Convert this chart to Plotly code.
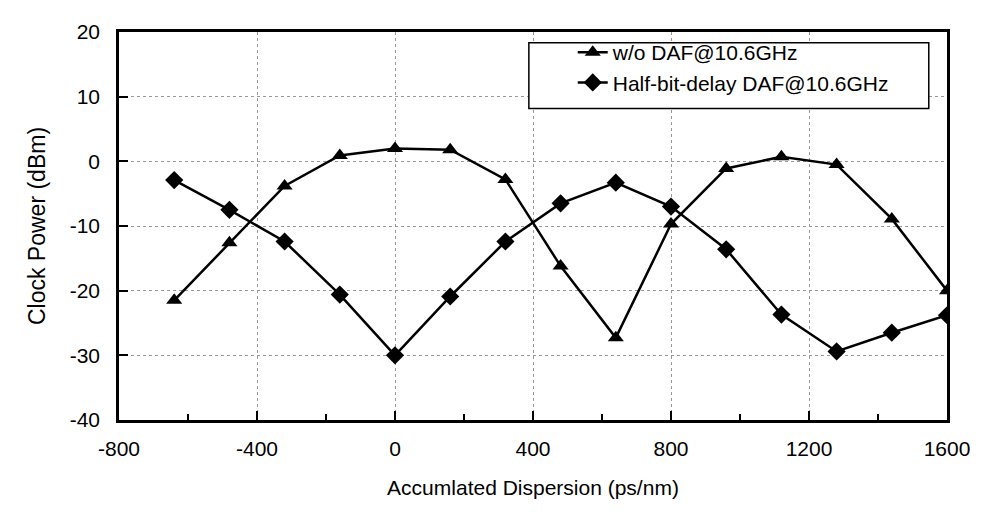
import plotly.graph_objects as go

dispersion = [-640, -480, -320, -160, 0, 160, 320, 480, 640, 800, 960, 1120, 1280, 1440, 1600]
wo_daf = [-21.5, -12.6, -3.8, 0.9, 2.0, 1.8, -2.8, -16.2, -27.3, -9.7, -1.1, 0.7, -0.5, -8.9, -20.0]
half_bit_daf = [-2.9, -7.5, -12.4, -20.6, -30.0, -20.9, -12.4, -6.5, -3.3, -7.0, -13.6, -23.7, -29.4, -26.5, -23.8]
x_ticks = [-800, -400, 0, 400, 800, 1200, 1600]
y_ticks = [-40, -30, -20, -10, 0, 10, 20]

fig = go.Figure()
fig.add_trace(go.Scatter(x=dispersion, y=wo_daf, mode="lines+markers",
                         name="w/o DAF@10.6GHz",
                         line=dict(color="black", width=2.5),
                         marker=dict(symbol="triangle-up", size=14, color="black")))
fig.add_trace(go.Scatter(x=dispersion, y=half_bit_daf, mode="lines+markers",
                         name="Half-bit-delay DAF@10.6GHz",
                         line=dict(color="black", width=2.5),
                         marker=dict(symbol="diamond", size=14, color="black")))

font = "Liberation Sans, Arial, sans-serif"
fig.update_layout(
    width=983, height=523,
    margin=dict(l=111, r=44, t=16, b=111),
    paper_bgcolor="white", plot_bgcolor="white",
    font=dict(family=font, size=21, color="black"),
    legend=dict(x=0.548, y=1.0, xanchor="left", yanchor="top",
                bgcolor="rgba(0,0,0,0)", borderwidth=0,
                font=dict(size=21, family=font), tracegroupgap=0),
    showlegend=True,
    shapes=[dict(type="rect", xref="paper", yref="paper",
                 x0=0.495, x1=0.978, y0=0.803, y1=0.972,
                 line=dict(color="black", width=1.5), fillcolor="white", layer="above")],
)
fig.update_xaxes(range=[-800, 1600], tickvals=x_ticks, ticktext=[str(v) for v in x_ticks],
                 ticks="inside", ticklen=9, tickwidth=2, tickcolor="black",
                 minor=dict(ticks="inside", ticklen=6, dtick=200, tick0=0, tickwidth=1.5, tickcolor="black", showgrid=False),
                 showline=True, linecolor="black", linewidth=2.5, mirror=True,
                 showgrid=True, gridcolor="#999999", griddash="dot", gridwidth=1,
                 zeroline=False, ticklabelstandoff=8,
                 title=dict(text="Accumlated Dispersion (ps/nm)", standoff=22, font=dict(size=21)),
                 tickfont=dict(size=21))
fig.update_yaxes(range=[-40, 20], tickvals=y_ticks, ticktext=[str(v) for v in y_ticks],
                 ticks="inside", ticklen=9, tickwidth=2, tickcolor="black",
                 showline=True, linecolor="black", linewidth=2.5, mirror=True,
                 showgrid=True, gridcolor="#999999", griddash="dot", gridwidth=1,
                 zeroline=False, ticklabelstandoff=12,
                 title=dict(text="Clock Power (dBm)", standoff=18, font=dict(size=23)),
                 tickfont=dict(size=21))

fig.write_html("out.html")
